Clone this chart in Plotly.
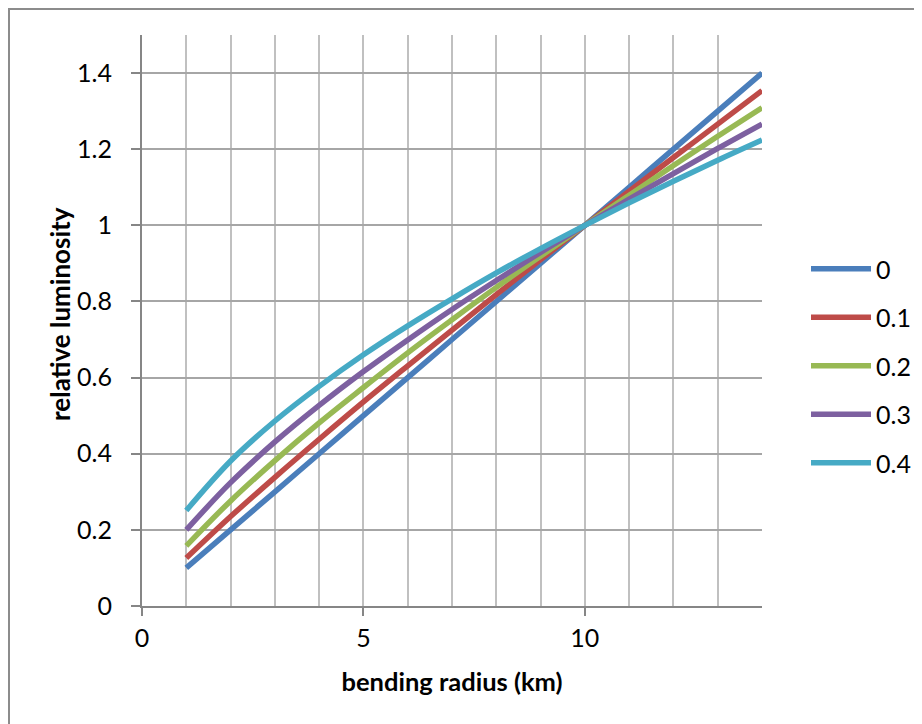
import plotly.graph_objects as go

# bending radius (km)
radius = [1, 2, 3, 4, 5, 6, 7, 8, 9, 10, 11, 12, 13, 14]

series_names = ["0", "0.1", "0.2", "0.3", "0.4"]
lum_0 = [0.100, 0.200, 0.300, 0.400, 0.500, 0.600, 0.700, 0.800, 0.900, 1.000, 1.100, 1.200, 1.300, 1.400]
lum_01 = [0.126, 0.235, 0.338, 0.438, 0.536, 0.631, 0.725, 0.818, 0.910, 1.000, 1.090, 1.178, 1.266, 1.354]
lum_02 = [0.158, 0.276, 0.382, 0.481, 0.574, 0.665, 0.752, 0.837, 0.919, 1.000, 1.079, 1.157, 1.234, 1.309]
lum_03 = [0.200, 0.324, 0.431, 0.527, 0.616, 0.699, 0.779, 0.855, 0.929, 1.000, 1.069, 1.136, 1.202, 1.266]
lum_04 = [0.251, 0.381, 0.486, 0.577, 0.660, 0.736, 0.807, 0.875, 0.939, 1.000, 1.059, 1.116, 1.171, 1.224]
series_values = [lum_0, lum_01, lum_02, lum_03, lum_04]
colors = ["#4a7ebb", "#be4b48", "#98b954", "#7d60a0", "#46aac5"]

x_title = "bending radius (km)"
y_title = "relative luminosity"

FONT = "Lato"

fig = go.Figure()
for name, vals, col in zip(series_names, series_values, colors):
    fig.add_trace(go.Scatter(
        x=radius, y=vals, name=name, mode="lines",
        line=dict(color=col, width=5.5, shape="spline", smoothing=1),
        legendgroup=name,
    ))

# page has an 8px body margin; plot area on page: x 142..762, y 35..606
OFF = 8
L, T = 142 - OFF, 35 - OFF
PW, PH = 620, 571
W, H = 922, 724

fig.update_layout(
    width=W, height=H,
    margin=dict(l=L, r=W - L - PW, t=T, b=H - T - PH, pad=0, autoexpand=False),
    paper_bgcolor="white", plot_bgcolor="white",
    font=dict(family=FONT, size=25, color="black"),
    showlegend=True,
    legend=dict(
        x=(806 - 142) / PW, xanchor="left",
        y=(606 - 246) / PH, yanchor="top",
        bgcolor="rgba(0,0,0,0)", borderwidth=0,
        font=dict(family=FONT, size=25),
        tracegroupgap=13, itemwidth=60,
    ),
    xaxis=dict(
        range=[0, 14], tick0=0, dtick=5, automargin=False,
        ticks="outside", ticklen=8, tickcolor="#868686", tickwidth=2,
        showline=True, linecolor="#868686", linewidth=2,
        showgrid=True, gridcolor="#c0c0c0", gridwidth=1.5,
        minor=dict(dtick=1, showgrid=True, gridcolor="#c0c0c0", gridwidth=1.5),
        zeroline=False,
        ticklabelstandoff=1,
        tickfont=dict(family=FONT, size=25),
        title=dict(text="<b>" + x_title + "</b>", font=dict(family=FONT, size=25.5), standoff=22),
    ),
    yaxis=dict(
        range=[0, 1.5], tick0=0, dtick=0.2, automargin=False,
        ticks="outside", ticklen=9, tickcolor="#868686", tickwidth=2,
        showline=True, linecolor="#868686", linewidth=2,
        showgrid=True, gridcolor="#a6a6a6", gridwidth=1.5,
        zeroline=False,
        ticklabelstandoff=14,
        tickfont=dict(family=FONT, size=25),
    ),
    annotations=[dict(
        text="<b>" + y_title + "</b>", textangle=-90,
        xref="paper", yref="paper",
        x=(60 - 142) / PW, y=(606 - 314) / PH,
        xanchor="center", yanchor="middle", showarrow=False,
        font=dict(family=FONT, size=26, color="black"),
    )],
    shapes=[dict(
        type="rect", xref="paper", yref="paper",
        x0=(9 - 142) / PW, x1=(960 - 142) / PW,
        y0=(606 - 760) / PH, y1=(606 - 9) / PH,
        line=dict(color="#8c8c8c", width=2), fillcolor="rgba(0,0,0,0)",
        layer="below",
    )],
)

fig.write_html("out.html")
